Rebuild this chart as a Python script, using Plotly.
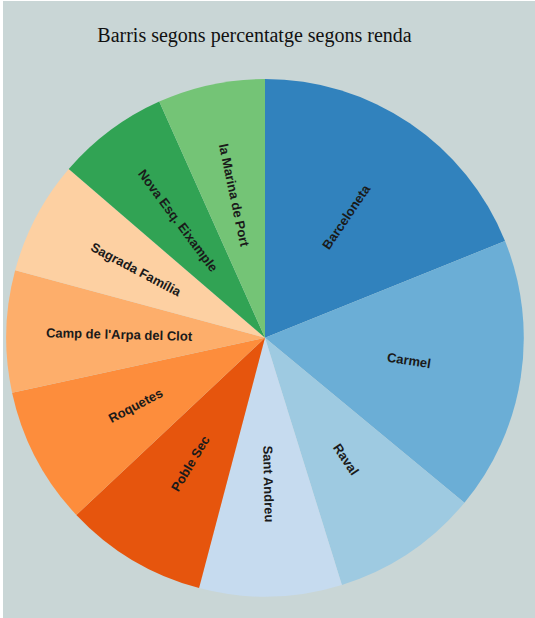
import math
import plotly.graph_objects as go

# Share of each neighbourhood (percent), in drawing order (clockwise from 12 o'clock)
barris = [
    "Barceloneta", "Carmel", "Raval", "Sant Andreu", "Poble Sec",
    "Roquetes", "Camp de l'Arpa del Clot", "Sagrada Família",
    "Nova Esq. Eixample", "la Marina de Port",
]
percentatge = [18.9, 17.1, 9.2, 8.9, 8.9, 8.6, 7.6, 7.1, 7.0, 6.7]
colors = [
    "#3182bd", "#6baed6", "#9ecae1", "#c6dbef", "#e6550d",
    "#fd8d3c", "#fdae6b", "#fdd0a2", "#31a354", "#74c476",
]
title = "Barris segons percentatge segons renda"

W, H = 535, 618
BG = "#c9d6d6"

cx, cy, R = 265, 337.8, 258.8  # pie centre / radius in px
LABEL_R = 146                   # radius of the label ring in px

fig = go.Figure(
    go.Pie(
        labels=barris,
        values=percentatge,
        textinfo="none",
        sort=False,
        direction="clockwise",
        rotation=0,
        marker=dict(colors=colors, line=dict(width=0)),
        hoverinfo="label+value",
        domain=dict(
            x=[(cx - R) / W, (cx + R) / W],
            y=[(H - cy - R) / H, (H - cy + R) / H],
        ),
    )
)

# Radial labels: placed on a ring at the middle angle of each slice,
# rotated along the radius and flipped on the left half to stay readable.
annotations = []
total = sum(percentatge)
acc = 0.0
for name, v in zip(barris, percentatge):
    mid = (acc + v / 2) / total * 360.0  # degrees clockwise from north
    acc += v
    rad = math.radians(mid)
    px = cx + LABEL_R * math.sin(rad)
    py = cy - LABEL_R * math.cos(rad)
    angle = mid - 90 if mid < 180 else mid - 270
    annotations.append(dict(
        text=name, x=px / W, y=1 - py / H, xref="paper", yref="paper",
        xanchor="center", yanchor="middle", showarrow=False, textangle=angle,
        font=dict(family="Liberation Sans, Arial, sans-serif", size=13, color="#1a1a1a",
                  weight="bold"),
    ))

fig.update_layout(
    width=W,
    height=H,
    margin=dict(l=0, r=0, t=0, b=0),
    paper_bgcolor="white",
    plot_bgcolor=BG,
    showlegend=False,
    annotations=annotations,
    title=dict(
        text=title,
        x=254.5 / W,
        xanchor="center",
        y=1 - 35 / H,
        yanchor="middle",
        font=dict(family="Liberation Serif, Times New Roman, serif", size=20, color="#111"),
    ),
    shapes=[
        dict(
            type="rect", xref="paper", yref="paper",
            x0=3 / W, x1=1, y0=0, y1=1 - 1 / H,
            fillcolor=BG, line=dict(width=0), layer="below",
        )
    ],
)

fig.write_html("out.html")
